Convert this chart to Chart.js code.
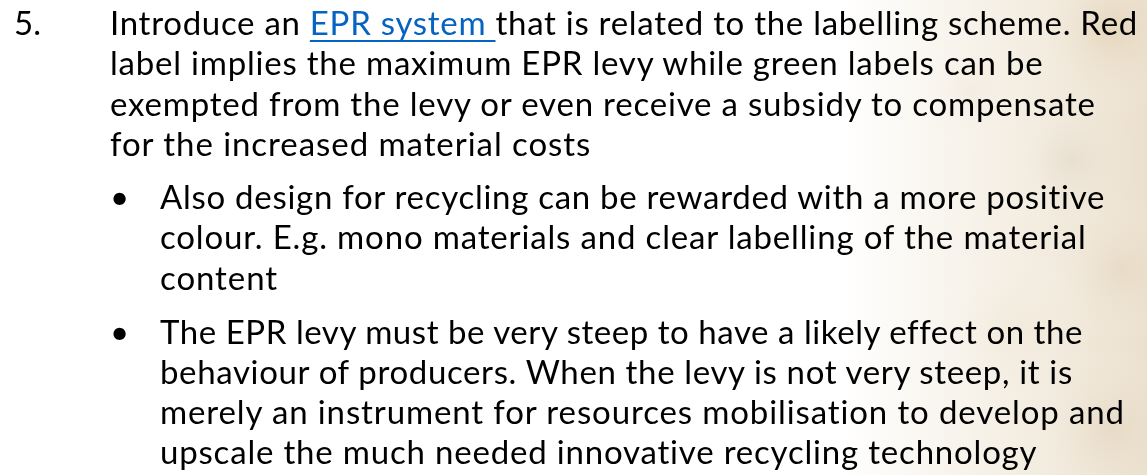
<!DOCTYPE html>
<html>
<head>
<meta charset="utf-8">
<script src="https://cdn.jsdelivr.net/npm/chart.js@4.4.1/dist/chart.umd.min.js"></script>
<style>
  html, body { margin:0; padding:0; width:1147px; height:475px; overflow:hidden; background:#fff; }
  #bg { position:absolute; left:0; top:0; width:1147px; height:475px; }
  .txt { position:absolute; font-family: Lato, "Noto Sans", sans-serif; color:#000; white-space:nowrap; }
  a { color:#0563C1; text-decoration:underline; text-decoration-thickness:2px; text-underline-offset:5px; }
</style>
</head>
<body>
<div id="bg"><canvas id="c" width="1147" height="475"></canvas></div>
<div id="content"></div>
<script>
// ---- text content (slide body) ----
const itemNumber = "5.";
const paragraph1 = [
  ["Introduce an ", "<a>EPR system </a>", "that is related to the labelling scheme. Red"],
  ["label implies the maximum EPR levy while green labels can be"],
  ["exempted from the levy or even receive a subsidy to compensate"],
  ["for the increased material costs"]
];
const bullet1 = [
  ["Also design for recycling can be rewarded with a more positive"],
  ["colour. E.g. mono materials and clear labelling of the material"],
  ["content"]
];
const bullet2 = [
  ["The EPR levy must be very steep to have a likely effect on the"],
  ["behaviour of producers. When the levy is not very steep, it is"],
  ["merely an instrument for resources mobilisation to develop and"],
  ["upscale the much needed innovative recycling technology"]
];
// right edges of each line in the reference (for width fitting)
const p1Right = [1138, 1045, 1098, 592];
const b1Right = [1107, 1088, 278];
const b2Right = [1085, 1077, 1127, 1038];
// baselines of each line in the reference
const p1Base = [36, 76, 117, 157];
const b1Base = [210, 250, 291];
const b2Base = [345, 385, 425, 465];

const FS = 33;          // font size px
const ASC = 0.987 * FS; // baseline offset from glyph-box top (Lato)

const content = document.getElementById('content');
const mctx = document.createElement('canvas').getContext('2d');

function plain(parts){ return parts.join('').replace(/<[^>]+>/g,''); }

function addLine(parts, left, baseline, right, size){
  const fs = size || FS;
  const d = document.createElement('div');
  d.className = 'txt';
  d.style.left = left + 'px';
  d.style.top = (baseline - 0.987*fs) + 'px';
  d.style.fontSize = fs + 'px';
  d.style.lineHeight = '1.2';
  d.style.height = (1.2*fs)+'px';
  d.style.top = (baseline - 0.987*fs - 0.1*fs + 0.1*fs) + 'px';
  if (right){
    mctx.font = fs + 'px Lato';
    const s = plain(parts);
    const w = mctx.measureText(s).width;
    const ls = ((right - left) - w) / (s.length);
    d.style.letterSpacing = ls.toFixed(3) + 'px';
  }
  d.innerHTML = parts.join('');
  content.appendChild(d);
}
function addBlock(lines, left, bases, rights){
  lines.forEach((p,i)=> addLine(p, left, bases[i], rights[i]));
}

document.fonts.load(FS + 'px Lato').then(()=>{
  addLine([itemNumber], 14, 36, null);
  addBlock(paragraph1, 110, p1Base, p1Right);
  addLine(["\u2022"], 110, b1Base[0], null);
  addBlock(bullet1, 160, b1Base, b1Right);
  addLine(["\u2022"], 110, b2Base[0], null);
  addBlock(bullet2, 160, b2Base, b2Right);
});

// ---- background drawn through a Chart.js canvas (no data marks on this slide) ----
const bgPlugin = {
  id: 'slideBg',
  beforeDraw(chart){
    const ctx = chart.ctx, W = chart.width, H = chart.height;
    ctx.save();
    ctx.fillStyle = '#ffffff';
    ctx.fillRect(0,0,W,H);
    const g = ctx.createLinearGradient(840,0,W,0);
    g.addColorStop(0,'rgba(238,228,210,0)');
    g.addColorStop(0.5,'rgba(238,228,210,0.55)');
    g.addColorStop(1,'rgba(234,222,202,0.95)');
    ctx.fillStyle = g;
    ctx.fillRect(0,0,W,H);
    const blobs = [
      [1110,30,90,'rgba(215,190,150,0.35)'],
      [1070,160,70,'rgba(200,188,170,0.22)'],
      [1120,270,80,'rgba(220,200,170,0.28)'],
      [1010,330,90,'rgba(228,214,190,0.22)'],
      [1110,430,90,'rgba(215,195,165,0.28)'],
      [970,90,70,'rgba(232,218,198,0.22)']
    ];
    blobs.forEach(([x,y,r,c])=>{
      const rg = ctx.createRadialGradient(x,y,0,x,y,r);
      rg.addColorStop(0,c); rg.addColorStop(1,'rgba(255,255,255,0)');
      ctx.fillStyle = rg; ctx.fillRect(x-r,y-r,2*r,2*r);
    });
    ctx.restore();
  }
};
new Chart(document.getElementById('c'), {
  type: 'scatter',
  data: { datasets: [] },
  options: {
    responsive:false, animation:false,
    plugins:{ legend:{display:false}, tooltip:{enabled:false} },
    scales:{ x:{display:false}, y:{display:false} }
  },
  plugins:[bgPlugin]
});
</script>
</body>
</html>
